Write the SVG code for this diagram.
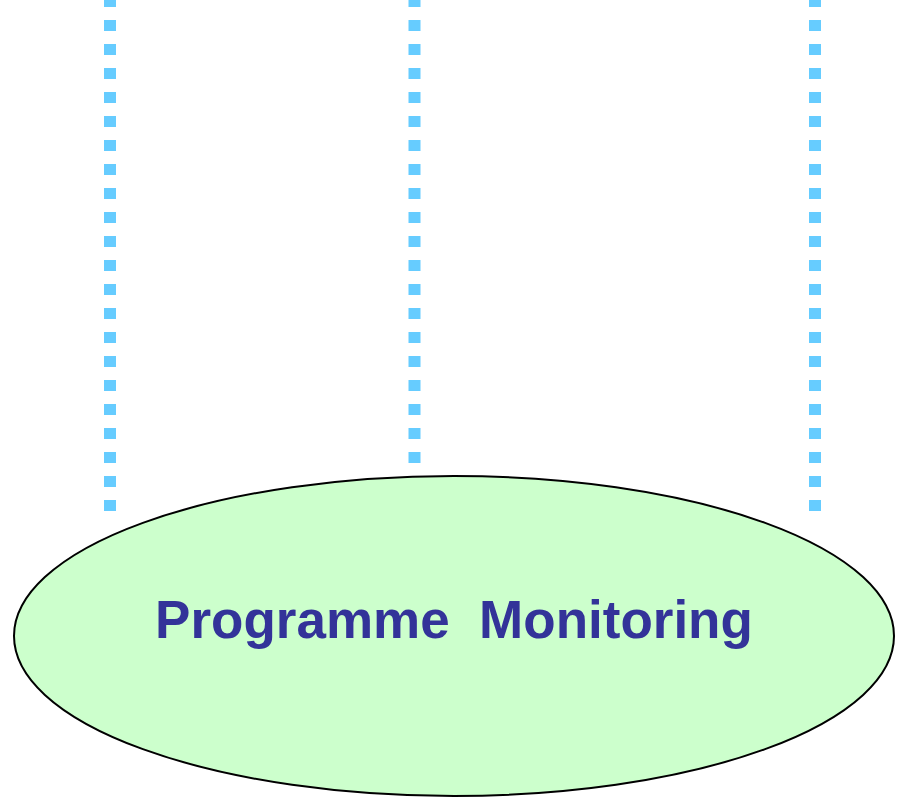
<svg xmlns="http://www.w3.org/2000/svg" width="901" height="798" viewBox="0 0 901 798">
<style>
.dot{stroke:#66CCFF;stroke-width:12;stroke-dasharray:11 13;fill:none}
.node{fill:#CCFFCC;stroke:#000;stroke-width:2}
.lbl{font-family:"Liberation Sans",Arial,sans-serif;font-weight:bold;font-size:53px;fill:#333399}
</style>
<rect width="901" height="798" fill="#fff"/>
<g id="connectors">
<line class="dot" x1="110" y1="-4" x2="110" y2="511"/>
<line class="dot" x1="414.5" y1="-4" x2="414.5" y2="463"/>
<line class="dot" x1="815" y1="-4" x2="815" y2="511"/>
</g>
<g id="programme-monitoring">
<ellipse class="node" cx="454" cy="636" rx="440" ry="160"/>
<text class="lbl" x="454" y="638" text-anchor="middle" xml:space="preserve">Programme  Monitoring</text>
</g>
</svg>
